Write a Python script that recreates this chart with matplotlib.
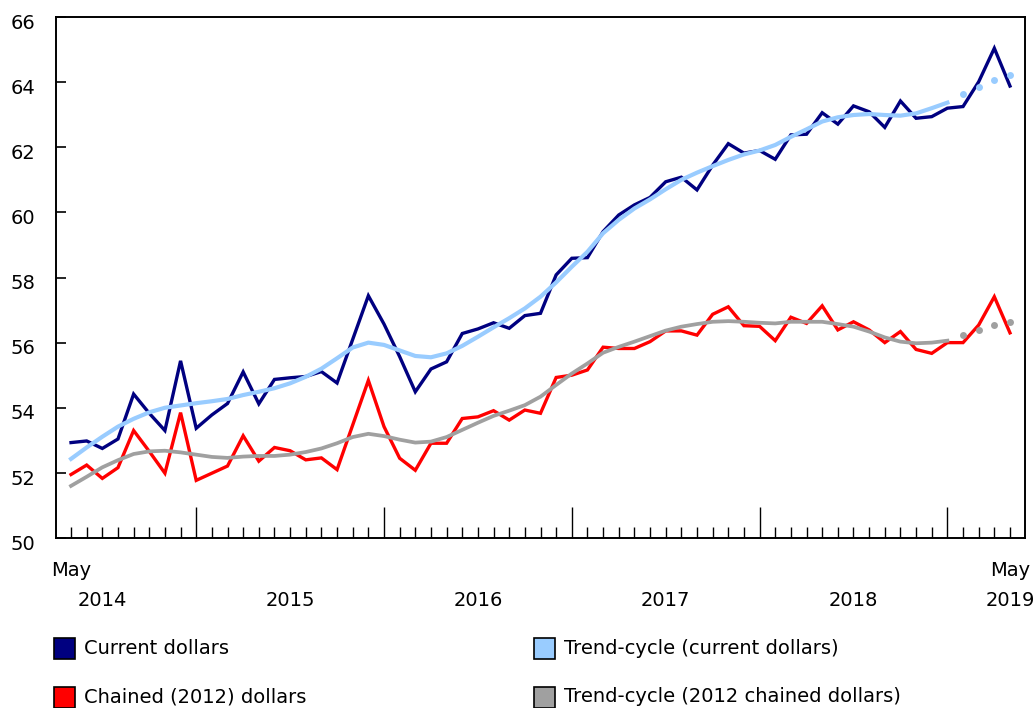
import matplotlib
matplotlib.use("Agg")
import matplotlib.pyplot as plt
from matplotlib.patches import Rectangle
import matplotlib.transforms as mtransforms
import numpy as np
import pandas as pd

plt.rcParams['font.family'] = ['DejaVu Sans']

# ---------------- data ----------------
months = pd.date_range('2014-05-01', '2019-05-01', freq='MS')

current_dollars = [
    52.93, 52.98, 52.75, 53.04, 54.42, 53.83, 53.30, 55.44, 53.37, 53.78,
    54.13, 55.10, 54.12, 54.87, 54.92, 54.96, 55.11, 54.76, 56.10, 57.44,
    56.57, 55.57, 54.49, 55.19, 55.41, 56.28, 56.42, 56.61, 56.44, 56.83,
    56.90, 58.08, 58.59, 58.61, 59.41, 59.92, 60.23, 60.46, 60.94, 61.08,
    60.69, 61.45, 62.11, 61.82, 61.90, 61.63, 62.38, 62.40, 63.06, 62.71,
    63.27, 63.09, 62.61, 63.42, 62.89, 62.94, 63.20, 63.25, 64.01, 65.04,
    63.88]

trend_current = [
    52.43, 52.78, 53.11, 53.42, 53.66, 53.86, 54.00, 54.07, 54.14, 54.20,
    54.27, 54.39, 54.49, 54.60, 54.75, 54.95, 55.20, 55.52, 55.85, 56.00,
    55.93, 55.76, 55.59, 55.55, 55.67, 55.90, 56.18, 56.47, 56.75, 57.05,
    57.41, 57.85, 58.33, 58.79, 59.36, 59.77, 60.12, 60.40, 60.71, 61.00,
    61.22, 61.42, 61.61, 61.78, 61.90, 62.07, 62.32, 62.55, 62.79, 62.92,
    62.99, 63.02, 62.99, 62.97, 63.04, 63.20, 63.37]
trend_current_recent = [63.63, 63.86, 64.07, 64.21]

chained_dollars = [
    51.95, 52.24, 51.83, 52.16, 53.30, 52.66, 51.99, 53.85, 51.77, 51.99,
    52.21, 53.14, 52.36, 52.78, 52.68, 52.40, 52.46, 52.10, 53.47, 54.84,
    53.42, 52.45, 52.08, 52.91, 52.91, 53.67, 53.72, 53.91, 53.62, 53.93,
    53.83, 54.93, 55.00, 55.16, 55.86, 55.82, 55.82, 56.03, 56.36, 56.36,
    56.23, 56.87, 57.10, 56.52, 56.50, 56.06, 56.78, 56.59, 57.13, 56.39,
    56.64, 56.39, 56.00, 56.34, 55.79, 55.67, 56.00, 56.00, 56.54, 57.41,
    56.30]

trend_chained = [
    51.60, 51.88, 52.17, 52.39, 52.58, 52.66, 52.68, 52.63, 52.56, 52.49,
    52.46, 52.50, 52.52, 52.52, 52.56, 52.64, 52.75, 52.91, 53.10, 53.20,
    53.13, 53.02, 52.93, 52.96, 53.10, 53.32, 53.54, 53.75, 53.91, 54.08,
    54.34, 54.70, 55.05, 55.36, 55.69, 55.87, 56.03, 56.20, 56.37, 56.49,
    56.57, 56.64, 56.66, 56.64, 56.61, 56.59, 56.64, 56.64, 56.64, 56.57,
    56.49, 56.34, 56.16, 56.03, 55.98, 56.00, 56.06]
trend_chained_recent = [56.23, 56.39, 56.54, 56.64]

y_ticks = [50, 52, 54, 56, 58, 60, 62, 64, 66]
year_labels = ['2014', '2015', '2016', '2017', '2018', '2019']
legend_labels = ['Current dollars', 'Trend-cycle (current dollars)',
                 'Chained (2012) dollars', 'Trend-cycle (2012 chained dollars)']

c_navy = '#000080'
c_light = '#99CCFF'
c_red = '#FF0000'
c_gray = '#A0A0A0'

# ---------------- figure ----------------
W, H = 1036, 708
fig = plt.figure(figsize=(W / 100, H / 100), dpi=100)
ax = fig.add_axes([56 / W, 1 - 538 / H, (1025 - 56) / W, (538 - 17) / H])

x = np.arange(len(months))
n_tr = len(trend_current)
x_tr = x[:n_tr]
x_rec = x[n_tr:]

ax.plot(x, current_dollars, color=c_navy, lw=2.4, solid_joinstyle='miter', zorder=3)
ax.plot(x, chained_dollars, color=c_red, lw=2.4, solid_joinstyle='miter', zorder=3)
ax.plot(x_tr, trend_current, color=c_light, lw=3.0, zorder=4)
ax.plot(x_tr, trend_chained, color=c_gray, lw=2.7, zorder=4)
ax.plot(x_rec, trend_current_recent, ls='none', marker='o', ms=5, color=c_light,
        markeredgewidth=0, zorder=4)
ax.plot(x_rec, trend_chained_recent, ls='none', marker='o', ms=5, color=c_gray,
        markeredgewidth=0, zorder=4)

ax.set_xlim(-0.96, 60.96)
ax.set_ylim(50, 66)

major_idx = [i for i, m in enumerate(months) if m.month == 1]
minor_idx = [i for i, m in enumerate(months) if m.month != 1]
ax.set_xticks(major_idx)
ax.set_xticks(minor_idx, minor=True)
ax.tick_params(axis='x', which='major', direction='in', length=31 * 0.72,
               width=1.0, labelbottom=False)
ax.tick_params(axis='x', which='minor', direction='in', length=11 * 0.72,
               width=1.0)

ax.set_yticks(y_ticks)
ax.set_yticklabels([str(v) for v in y_ticks])
ax.tick_params(axis='y', direction='in', length=7.5, width=1.2, labelsize=14,
               pad=15)
off = mtransforms.ScaledTranslation(0, -3 / 72, fig.dpi_scale_trans)
for lab in ax.get_yticklabels():
    lab.set_transform(lab.get_transform() + off)

for s in ax.spines.values():
    s.set_linewidth(1.4)
    s.set_color('black')

# x labels: May at ends, years at July
trans = mtransforms.blended_transform_factory(ax.transData, fig.transFigure)
y_may = 1 - 571 / H
y_year = 1 - 600 / H
ax.text(0, y_may, months[0].strftime('%b'), transform=trans, ha='center',
        va='center', fontsize=14)
ax.text(len(months) - 1, y_may, months[-1].strftime('%b'), transform=trans,
        ha='center', va='center', fontsize=14)
for lab in year_labels:
    yr = int(lab)
    idx = [i for i, m in enumerate(months) if m.year == yr and m.month == 7]
    pos = idx[0] if idx else len(months) - 1
    ax.text(pos, y_year, lab, transform=trans, ha='center', va='center',
            fontsize=14)

# legend
leg_colors = [c_navy, c_light, c_red, c_gray]
col_x = [54, 534]
row_y = [648, 697]
sq = 21
for k, (lab, col) in enumerate(zip(legend_labels, leg_colors)):
    cx = col_x[k % 2]
    cy = row_y[k // 2]
    fig.add_artist(Rectangle((cx / W, 1 - (cy + sq / 2) / H), sq / W, sq / H,
                             transform=fig.transFigure, facecolor=col,
                             edgecolor='black', linewidth=1.2))
    fig.text((cx + 30) / W, 1 - cy / H, lab, ha='left', va='center', fontsize=14)

fig.savefig('out.png', dpi=100)
